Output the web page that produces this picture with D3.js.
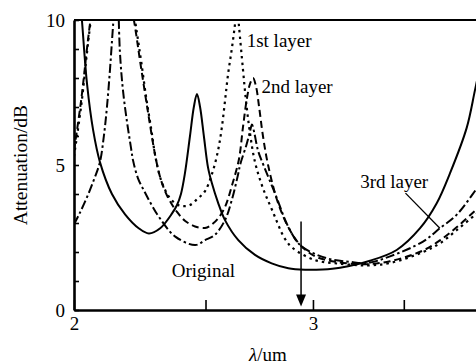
<!DOCTYPE html>
<html>
<head>
<meta charset="utf-8">
<script src="https://cdn.jsdelivr.net/npm/d3@7"></script>
<style>
  html, body { margin: 0; padding: 0; background: #fff; }
  svg { display: block; font-family: "Liberation Serif", "Times New Roman", serif; }
</style>
</head>
<body>
<svg id="chart" width="476" height="364"></svg>
<script>
// Wavelength (um) and attenuation (dB) samples for each structure
const originalLambda = [1.990, 2.000, 2.014, 2.027, 2.045, 2.066, 2.090, 2.133, 2.181, 2.232, 2.271, 2.315, 2.362, 2.382, 2.398, 2.414, 2.435, 2.451, 2.464, 2.477, 2.493, 2.511, 2.528, 2.553, 2.584, 2.643, 2.719, 2.797, 2.877, 2.960, 3.050, 3.141, 3.305, 3.458, 3.598, 3.701, 3.785, 3.894, 3.950, 4.000];
const originalAtten  = [16.5, 13.6, 11.6, 10.0, 7.77, 6.2, 5.1, 4.0, 3.3, 2.82, 2.64, 2.82, 3.33, 3.62, 4.0, 4.7, 6.0, 7.0, 7.45, 7.0, 6.0, 4.9, 4.35, 3.72, 3.10, 2.41, 1.90, 1.61, 1.44, 1.39, 1.40, 1.46, 1.70, 2.07, 2.82, 3.68, 4.71, 6.28, 7.6, 8.8];

const layer1Lambda = [2.000, 2.024, 2.058, 2.135, 2.218, 2.241, 2.262, 2.279, 2.295, 2.314, 2.334, 2.354, 2.382, 2.406, 2.435, 2.468, 2.498, 2.528, 2.553, 2.570, 2.584, 2.597, 2.614, 2.628, 2.637, 2.646, 2.664, 2.678, 2.696, 2.719, 2.756, 2.799, 2.861, 2.900, 3.011, 3.131, 3.289, 3.419, 3.616, 3.721, 3.828, 3.956, 4.000];
const layer1Atten  = [5.3, 7.0, 10.0, 15.0, 10.0, 8.6, 7.24, 6.3, 5.35, 4.6, 4.15, 3.85, 3.64, 3.58, 3.62, 3.85, 4.1, 4.7, 5.47, 6.28, 7.2, 8.1, 9.0, 9.84, 10.6, 9.8, 8.3, 7.2, 6.1, 5.1, 4.2, 3.45, 2.45, 2.13, 1.72, 1.60, 1.54, 1.62, 2.0, 2.3, 2.75, 3.3, 3.45];

const layer2Lambda = [2.000, 2.024, 2.056, 2.125, 2.214, 2.237, 2.260, 2.276, 2.295, 2.314, 2.334, 2.354, 2.382, 2.414, 2.456, 2.498, 2.519, 2.553, 2.584, 2.615, 2.646, 2.664, 2.682, 2.696, 2.710, 2.724, 2.738, 2.756, 2.780, 2.827, 2.885, 2.935, 3.011, 3.099, 3.195, 3.289, 3.419, 3.616, 3.721, 3.828, 3.956, 4.000];
const layer2Atten  = [5.5, 7.2, 9.95, 14.5, 10.0, 8.6, 7.25, 6.35, 5.35, 4.6, 4.1, 3.75, 3.38, 3.08, 2.88, 2.83, 2.9, 3.15, 3.55, 4.3, 5.2, 6.3, 7.3, 7.8, 8.0, 7.7, 7.0, 6.0, 5.0, 3.7, 2.75, 2.25, 1.85, 1.68, 1.60, 1.58, 1.68, 2.05, 2.40, 2.85, 3.45, 3.65];

const layer3Lambda = [2.000, 2.020, 2.045, 2.069, 2.090, 2.104, 2.115, 2.126, 2.137, 2.151, 2.162, 2.173, 2.188, 2.203, 2.211, 2.229, 2.256, 2.283, 2.314, 2.375, 2.457, 2.498, 2.540, 2.584, 2.614, 2.643, 2.651, 2.680, 2.696, 2.705, 2.716, 2.734, 2.761, 2.813, 2.877, 2.935, 3.011, 3.097, 3.195, 3.289, 3.419, 3.616, 3.721, 3.828, 3.956, 4.000];
const layer3Atten  = [2.95, 3.35, 3.9, 4.5, 5.1, 6.0, 7.0, 8.3, 9.8, 11.5, 8.9, 7.6, 6.5, 5.6, 5.15, 4.55, 4.05, 3.6, 3.16, 2.53, 2.24, 2.41, 2.59, 3.10, 3.79, 4.71, 5.0, 5.7, 6.15, 6.4, 6.1, 5.47, 4.95, 4.02, 2.87, 2.24, 1.93, 1.74, 1.66, 1.62, 1.85, 2.36, 2.82, 3.28, 4.15, 4.45];

// Axis ticks and labels
const xTicks = [2, 2.5, 3, 3.5, 4];
const xTickLabels = [2, 3];
const yTicks = [0, 1, 2, 3, 4, 5, 6, 7, 8, 9, 10];
const yTickLabels = [0, 5, 10];

// Curve annotations: [text, lambda, attenuation]
const curveLabels = [
  ["1st layer", 2.681, 9.07],
  ["2nd layer", 2.749, 7.48],
  ["3rd layer", 3.250, 4.21],
  ["Original", 2.361, 1.14]
];
const leaderFrom = [3.51, 4.03];
const leaderTo = [3.721, 2.82];
const arrowLambda = 2.94;
const arrowFrom = 3.05;
const arrowTo = 0.12;

const svg = d3.select("#chart");
const plotLeft = 74, plotRight = 482.5, plotTop = 20, plotBottom = 310;

const x = d3.scaleLog().domain([2, 4]).range([plotLeft, plotRight]);
const y = d3.scaleLinear().domain([0, 10]).range([plotBottom, plotTop]);

svg.append("defs").append("clipPath").attr("id", "plotClip")
  .append("rect").attr("x", plotLeft).attr("y", plotTop)
  .attr("width", plotRight - plotLeft).attr("height", plotBottom - plotTop);

const series = [
  { lam: originalLambda, att: originalAtten, dash: null, width: 2 },
  { lam: layer1Lambda, att: layer1Atten, dash: "2.5,4", width: 2.2 },
  { lam: layer2Lambda, att: layer2Atten, dash: "7,4", width: 2 },
  { lam: layer3Lambda, att: layer3Atten, dash: "9,3,2.5,3", width: 2 }
];

const line = d3.line()
  .x(d => x(d[0]))
  .y(d => y(d[1]))
  .curve(d3.curveCatmullRom.alpha(0.5));

const curves = svg.append("g").attr("clip-path", "url(#plotClip)");
series.forEach(s => {
  curves.append("path")
    .datum(s.lam.map((l, i) => [l, s.att[i]]))
    .attr("d", line)
    .attr("fill", "none")
    .attr("stroke", "#000")
    .attr("stroke-width", s.width)
    .attr("stroke-dasharray", s.dash);
});

// Axes
const fontSize = 19;
const yAxis = d3.axisLeft(y).tickValues(yTicks)
  .tickSizeInner(-5).tickSizeOuter(0).tickPadding(9)
  .tickFormat(d => yTickLabels.includes(d) ? d : "");
const gy = svg.append("g").attr("transform", `translate(${plotLeft},0)`).call(yAxis);

const xAxis = d3.axisBottom(x).tickValues(xTicks)
  .tickSizeInner(-10).tickSizeOuter(0).tickPadding(7)
  .tickFormat(d => xTickLabels.includes(d) ? d : "");
const gx = svg.append("g").attr("transform", `translate(0,${plotBottom})`).call(xAxis);

[gx, gy].forEach(g => {
  g.select(".domain").attr("stroke", "#000").attr("stroke-width", 2.6);
  g.selectAll(".tick line").attr("stroke", "#000").attr("stroke-width", 1.6);
  g.selectAll("text").attr("fill", "#000")
    .attr("font-size", fontSize)
    .attr("font-family", "'Liberation Serif', 'Times New Roman', serif");
});

// Top frame line
svg.append("line")
  .attr("x1", plotLeft).attr("x2", plotRight)
  .attr("y1", y(10)).attr("y2", y(10))
  .attr("stroke", "#000").attr("stroke-width", 2.2);

// Curve labels
svg.append("g").selectAll("text").data(curveLabels).join("text")
  .attr("x", d => x(d[1]))
  .attr("y", d => y(d[2]))
  .attr("font-size", fontSize)
  .attr("fill", "#000")
  .text(d => d[0]);

// Leader line for the 3rd layer label
svg.append("line")
  .attr("x1", x(leaderFrom[0])).attr("y1", y(leaderFrom[1]))
  .attr("x2", x(leaderTo[0])).attr("y2", y(leaderTo[1]))
  .attr("stroke", "#000").attr("stroke-width", 1.3);

// Downward arrow marking the wavelength of interest
const ax = x(arrowLambda);
const tipY = y(arrowTo);
svg.append("line")
  .attr("x1", ax).attr("x2", ax)
  .attr("y1", y(arrowFrom)).attr("y2", tipY - 8)
  .attr("stroke", "#000").attr("stroke-width", 1.5);
svg.append("path")
  .attr("d", `M${ax - 5},${tipY - 12} L${ax + 5},${tipY - 12} L${ax},${tipY} Z`)
  .attr("fill", "#000");

// Axis titles
svg.append("text")
  .attr("transform", "translate(27,165) rotate(-90)")
  .attr("text-anchor", "middle")
  .attr("font-size", fontSize + 0.5)
  .attr("fill", "#000")
  .text("Attenuation/dB");

const xt = svg.append("text")
  .attr("x", 268).attr("y", 361)
  .attr("text-anchor", "middle")
  .attr("font-size", fontSize)
  .attr("fill", "#000");
xt.append("tspan").attr("font-style", "italic").text("λ");
xt.append("tspan").text("/um");
</script>
</body>
</html>
